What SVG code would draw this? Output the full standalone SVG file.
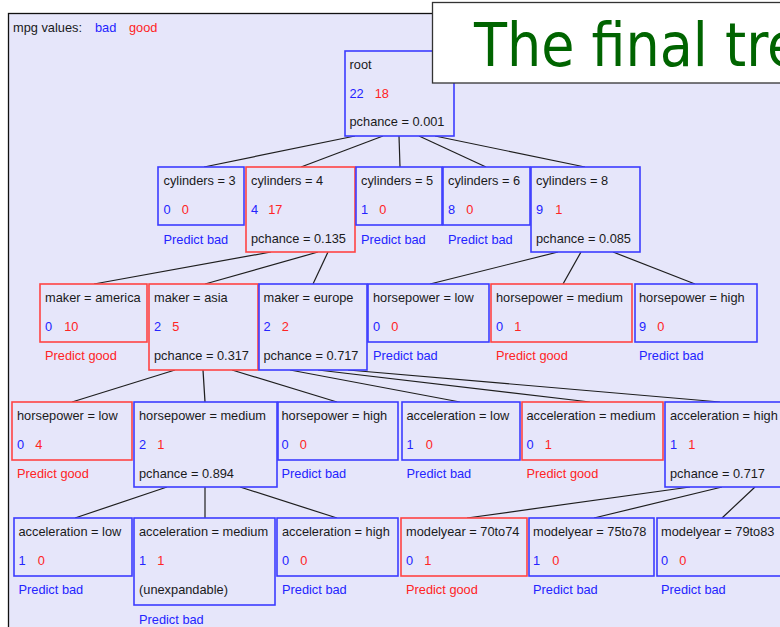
<svg xmlns="http://www.w3.org/2000/svg" width="780" height="627" viewBox="0 0 780 627">
<style>
.t{font-family:"Liberation Sans",Arial,sans-serif;font-size:12.8px;fill:#1a1a1a}
.bl{fill:#2424ff}
.rd{fill:#ff2424}
.nb{fill:#E6E6FA;stroke:#3c3cff;stroke-width:1.6}
.nr{fill:#E6E6FA;stroke:#ff4444;stroke-width:1.6}
.c line{stroke:#1e1e1e;stroke-width:1.2}
</style>
<rect x="0" y="0" width="780" height="627" fill="#ffffff"/>
<rect x="8.5" y="13.5" width="820" height="700" fill="#E6E6FA" stroke="#111" stroke-width="1.3"/>
<g id="legend">
<text class="t" x="13" y="32">mpg values:</text>
<text class="t bl" x="95" y="32">bad</text>
<text class="t rd" x="129" y="32">good</text>
</g>
<g id="connectors" class="c">
<line x1="355" y1="136" x2="204" y2="167"/>
<line x1="383" y1="136" x2="301" y2="167"/>
<line x1="399" y1="136" x2="400" y2="167"/>
<line x1="419" y1="136" x2="486" y2="167"/>
<line x1="435" y1="136" x2="585" y2="167"/>
<line x1="271" y1="252" x2="94" y2="284"/>
<line x1="318" y1="252" x2="205" y2="284"/>
<line x1="328" y1="252" x2="313" y2="284"/>
<line x1="558" y1="252" x2="430" y2="284"/>
<line x1="581" y1="252" x2="563" y2="284"/>
<line x1="613" y1="252" x2="695" y2="284"/>
<line x1="175" y1="370" x2="72" y2="402"/>
<line x1="203" y1="370" x2="205" y2="402"/>
<line x1="232" y1="370" x2="337" y2="402"/>
<line x1="290" y1="370" x2="460" y2="402"/>
<line x1="318" y1="370" x2="590" y2="402"/>
<line x1="348" y1="370" x2="720" y2="402"/>
<line x1="167" y1="487" x2="75" y2="518"/>
<line x1="205" y1="487" x2="205" y2="518"/>
<line x1="240" y1="487" x2="337" y2="518"/>
<line x1="690" y1="487" x2="467" y2="518"/>
<line x1="722" y1="487" x2="594" y2="518"/>
<line x1="755" y1="487" x2="722" y2="518"/>
</g>
<g id="root" transform="translate(345,51)">
<rect class="nb" width="109" height="85"/>
<text class="t" x="4.5" y="17.5">root</text>
<text class="t" x="4.5" y="46.5"><tspan class="bl">22</tspan><tspan class="rd" dx="11">18</tspan></text>
<text class="t" x="4.5" y="75">pchance = 0.001</text>
</g>
<g id="cyl3" transform="translate(158,167)">
<rect class="nb" width="86" height="58"/>
<text class="t" x="5.5" y="18">cylinders = 3</text>
<text class="t" x="5.5" y="47"><tspan class="bl">0</tspan><tspan class="rd" dx="11">0</tspan></text>
<text class="t bl" x="5.5" y="77">Predict bad</text>
</g>
<g id="cyl4" transform="translate(246,167)">
<rect class="nr" width="109" height="85"/>
<text class="t" x="5" y="18">cylinders = 4</text>
<text class="t" x="5" y="47"><tspan class="bl">4</tspan><tspan class="rd" dx="10">17</tspan></text>
<text class="t" x="5" y="76">pchance = 0.135</text>
</g>
<g id="cyl5" transform="translate(356,167)">
<rect class="nb" width="86" height="58"/>
<text class="t" x="5" y="18">cylinders = 5</text>
<text class="t" x="5" y="47"><tspan class="bl">1</tspan><tspan class="rd" dx="11">0</tspan></text>
<text class="t bl" x="5" y="77">Predict bad</text>
</g>
<g id="cyl6" transform="translate(443,167)">
<rect class="nb" width="87" height="58"/>
<text class="t" x="5" y="18">cylinders = 6</text>
<text class="t" x="5" y="47"><tspan class="bl">8</tspan><tspan class="rd" dx="11">0</tspan></text>
<text class="t bl" x="5" y="77">Predict bad</text>
</g>
<g id="cyl8" transform="translate(531,167)">
<rect class="nb" width="109" height="85"/>
<text class="t" x="5" y="18">cylinders = 8</text>
<text class="t" x="5" y="47"><tspan class="bl">9</tspan><tspan class="rd" dx="12">1</tspan></text>
<text class="t" x="5" y="76">pchance = 0.085</text>
</g>
<g id="maker_america" transform="translate(40,284)">
<rect class="nr" width="107" height="58"/>
<text class="t" x="5" y="18">maker = america</text>
<text class="t" x="5" y="47"><tspan class="bl">0</tspan><tspan class="rd" dx="12">10</tspan></text>
<text class="t rd" x="5" y="76">Predict good</text>
</g>
<g id="maker_asia" transform="translate(149,284)">
<rect class="nr" width="109" height="86"/>
<text class="t" x="5" y="18">maker = asia</text>
<text class="t" x="5" y="47"><tspan class="bl">2</tspan><tspan class="rd" dx="11">5</tspan></text>
<text class="t" x="5" y="76">pchance = 0.317</text>
</g>
<g id="maker_europe" transform="translate(259,284)">
<rect class="nb" width="108" height="86"/>
<text class="t" x="4.5" y="18">maker = europe</text>
<text class="t" x="4.5" y="47"><tspan class="bl">2</tspan><tspan class="rd" dx="11">2</tspan></text>
<text class="t" x="4.5" y="76">pchance = 0.717</text>
</g>
<g id="cyl8_hp_low" transform="translate(368,284)">
<rect class="nb" width="121" height="58"/>
<text class="t" x="5" y="18">horsepower = low</text>
<text class="t" x="5" y="47"><tspan class="bl">0</tspan><tspan class="rd" dx="11">0</tspan></text>
<text class="t bl" x="5" y="76">Predict bad</text>
</g>
<g id="cyl8_hp_medium" transform="translate(491,284)">
<rect class="nr" width="141" height="58"/>
<text class="t" x="5" y="18">horsepower = medium</text>
<text class="t" x="5" y="47"><tspan class="bl">0</tspan><tspan class="rd" dx="11">1</tspan></text>
<text class="t rd" x="5" y="76">Predict good</text>
</g>
<g id="cyl8_hp_high" transform="translate(635,284)">
<rect class="nb" width="122" height="58"/>
<text class="t" x="4" y="18">horsepower = high</text>
<text class="t" x="4" y="47"><tspan class="bl">9</tspan><tspan class="rd" dx="11">0</tspan></text>
<text class="t bl" x="4" y="76">Predict bad</text>
</g>
<g id="asia_hp_low" transform="translate(12,402)">
<rect class="nr" width="120" height="58"/>
<text class="t" x="5" y="18">horsepower = low</text>
<text class="t" x="5" y="47"><tspan class="bl">0</tspan><tspan class="rd" dx="11">4</tspan></text>
<text class="t rd" x="5" y="76">Predict good</text>
</g>
<g id="asia_hp_medium" transform="translate(134,402)">
<rect class="nb" width="143" height="85"/>
<text class="t" x="5" y="18">horsepower = medium</text>
<text class="t" x="5" y="47"><tspan class="bl">2</tspan><tspan class="rd" dx="11">1</tspan></text>
<text class="t" x="5" y="76">pchance = 0.894</text>
</g>
<g id="asia_hp_high" transform="translate(278,402)">
<rect class="nb" width="120" height="58"/>
<text class="t" x="3.5" y="18">horsepower = high</text>
<text class="t" x="3.5" y="47"><tspan class="bl">0</tspan><tspan class="rd" dx="11">0</tspan></text>
<text class="t bl" x="3.5" y="76">Predict bad</text>
</g>
<g id="europe_acc_low" transform="translate(402,402)">
<rect class="nb" width="118" height="58"/>
<text class="t" x="4.5" y="18">acceleration = low</text>
<text class="t" x="4.5" y="47"><tspan class="bl">1</tspan><tspan class="rd" dx="12">0</tspan></text>
<text class="t bl" x="4.5" y="76">Predict bad</text>
</g>
<g id="europe_acc_medium" transform="translate(522,402)">
<rect class="nr" width="141" height="58"/>
<text class="t" x="4.5" y="18">acceleration = medium</text>
<text class="t" x="4.5" y="47"><tspan class="bl">0</tspan><tspan class="rd" dx="11">1</tspan></text>
<text class="t rd" x="4.5" y="76">Predict good</text>
</g>
<g id="europe_acc_high" transform="translate(665,402)">
<rect class="nb" width="124" height="85"/>
<text class="t" x="5" y="18">acceleration = high</text>
<text class="t" x="5" y="47"><tspan class="bl">1</tspan><tspan class="rd" dx="12">1</tspan></text>
<text class="t" x="5" y="76">pchance = 0.717</text>
</g>
<g id="hpmed_acc_low" transform="translate(14,518)">
<rect class="nb" width="118" height="58"/>
<text class="t" x="4.5" y="18">acceleration = low</text>
<text class="t" x="4.5" y="47"><tspan class="bl">1</tspan><tspan class="rd" dx="12">0</tspan></text>
<text class="t bl" x="4.5" y="76">Predict bad</text>
</g>
<g id="hpmed_acc_medium" transform="translate(134,518)">
<rect class="nb" width="141" height="87"/>
<text class="t" x="5" y="18">acceleration = medium</text>
<text class="t" x="5" y="47"><tspan class="bl">1</tspan><tspan class="rd" dx="12">1</tspan></text>
<text class="t" x="5" y="76">(unexpandable)</text>
<text class="t bl" x="5" y="106">Predict bad</text>
</g>
<g id="hpmed_acc_high" transform="translate(277,518)">
<rect class="nb" width="121" height="58"/>
<text class="t" x="5" y="18">acceleration = high</text>
<text class="t" x="5" y="47"><tspan class="bl">0</tspan><tspan class="rd" dx="11">0</tspan></text>
<text class="t bl" x="5" y="76">Predict bad</text>
</g>
<g id="my_70to74" transform="translate(401,518)">
<rect class="nr" width="126" height="58"/>
<text class="t" x="5" y="18">modelyear = 70to74</text>
<text class="t" x="5" y="47"><tspan class="bl">0</tspan><tspan class="rd" dx="11">1</tspan></text>
<text class="t rd" x="5" y="76">Predict good</text>
</g>
<g id="my_75to78" transform="translate(529,518)">
<rect class="nb" width="125" height="58"/>
<text class="t" x="4" y="18">modelyear = 75to78</text>
<text class="t" x="4" y="47"><tspan class="bl">1</tspan><tspan class="rd" dx="12">0</tspan></text>
<text class="t bl" x="4" y="76">Predict bad</text>
</g>
<g id="my_79to83" transform="translate(657,518)">
<rect class="nb" width="126" height="58"/>
<text class="t" x="4" y="18">modelyear = 79to83</text>
<text class="t" x="4" y="47"><tspan class="bl">0</tspan><tspan class="rd" dx="11">0</tspan></text>
<text class="t bl" x="4" y="76">Predict bad</text>
</g>
<g id="title">
<rect x="432.5" y="2.5" width="400" height="80.5" fill="#ffffff" stroke="#333" stroke-width="1.3"/>
<text x="474" y="66" font-family="'DejaVu Sans Condensed','DejaVu Sans',sans-serif" font-size="60" fill="#006400">The final tre</text>
</g>
</svg>
